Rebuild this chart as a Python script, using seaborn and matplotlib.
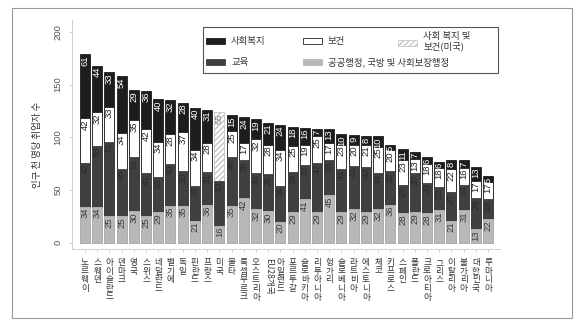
import numpy as np
import pandas as pd
import matplotlib
matplotlib.use("Agg")
import matplotlib.pyplot as plt
from matplotlib.patches import Rectangle
import seaborn as sns

# Employment per 1,000 inhabitants by sector
countries = ["노르웨이", "스웨덴", "아이슬란드", "덴마크", "영국", "스위스", "네덜란드", "벨기에",
             "독일", "핀란드", "프랑스", "미국", "몰타", "룩셈부르크", "오스트리아", "EU28개국",
             "아일랜드", "포르투갈", "슬로바키아", "리투아니아", "헝가리", "슬로베니아", "라트비아",
             "에스토니아", "체코", "키프로스", "스페인", "폴란드", "크로아티아", "그리스", "이탈리아",
             "불가리아", "대한민국", "루마니아"]
public_admin = [34, 34, 25, 25, 30, 25, 29, 35, 35, 21, 36, 16, 35, 42, 32, 30, 20, 29, 41, 29,
                45, 29, 32, 29, 32, 36, 28, 29, 28, 31, 21, 31, 13, 22]
education = [42, 58, 71, 45, 51, 41, 33, 40, 33, 33, 31, 43, 46, 36, 34, 35, 34, 38, 33, 47,
             33, 41, 41, 43, 34, 32, 27, 37, 29, 22, 27, 24, 29, 19]
health = [42, 32, 33, 34, 35, 42, 34, 28, 37, 34, 28, np.nan, 25, 17, 32, 28, 34, 25, 19, 25,
          17, 23, 20, 21, 25, 20, 23, 13, 18, 18, 22, 16, 17, 17]
welfare = [61, 44, 33, 54, 29, 36, 40, 32, 28, 40, 31, np.nan, 15, 24, 19, 21, 24, 18, 16, 7,
           13, 10, 9, 8, 10, 5, 11, 7, 6, 6, 8, 7, 13, 5]
# United States: social welfare and health reported together
welfare_health_us = [np.nan] * 11 + [65] + [np.nan] * 22

df = pd.DataFrame({"country": countries, "admin": public_admin, "edu": education,
                   "health": health, "welfare": welfare, "combined": welfare_health_us})
df["top_admin"] = df["admin"]
df["top_edu"] = df["admin"] + df["edu"]
df["top_health"] = df["top_edu"] + df["health"]
df["top_welfare"] = df["top_health"] + df["welfare"]
df["top_combined"] = df["top_edu"] + df["combined"]

C_WELFARE = "#1d1d1d"
C_EDU = "#404040"
C_ADMIN = "#b8b8b8"
KR = ["Noto Sans CJK KR", "DejaVu Sans"]
NUM = ["Liberation Sans Narrow", "Liberation Sans", "DejaVu Sans"]

sns.set_style("white")
W, H = 582, 326
fig = plt.figure(figsize=(W / 100, H / 100), dpi=100)
ax = fig.add_axes([72 / W, 1 - 249 / H, (500 - 72) / W, (249 - 20) / H])

bw = 0.82
common = dict(x="country", order=countries, width=bw, saturation=1, ax=ax, linewidth=0.6)
sns.barplot(data=df, y="top_welfare", color=C_WELFARE, edgecolor=C_WELFARE, **common)
sns.barplot(data=df, y="top_combined", color="white", edgecolor="#c4c4c4", hatch="//////", **common)
sns.barplot(data=df, y="top_health", color="white", edgecolor="#222222", **common)
sns.barplot(data=df, y="top_edu", color=C_EDU, edgecolor=C_EDU, **common)
sns.barplot(data=df, y="top_admin", color=C_ADMIN, edgecolor=C_ADMIN, **common)

# value labels, written upward at the top end of each segment
def seg_labels(values, tops, color):
    for i, (v, t) in enumerate(zip(values, tops)):
        if np.isnan(v):
            continue
        ax.text(i, t - 1.0, f"{int(v)}", rotation=90, ha="center", va="top",
                fontsize=6.8, color=color, family=NUM)

seg_labels(df["admin"], df["top_admin"], "#3a3a3a")
seg_labels(df["edu"], df["top_edu"], "#2a2a2a")
seg_labels(df["health"], df["top_health"], "#222222")
seg_labels(df["welfare"], df["top_welfare"], "white")
seg_labels(df["combined"], df["top_combined"], "#8a8a8a")

ax.set_xlim(-1.06, 33.98)
ax.set_ylim(-6.0, 211.3)
ax.set_yticks([0, 50, 100, 150, 200])
ax.set_xlabel("")
ax.set_ylabel("")
for s in ["top", "right"]:
    ax.spines[s].set_visible(False)
for s in ["left", "bottom"]:
    ax.spines[s].set_color("#cfcfcf")
    ax.spines[s].set_linewidth(0.7)

ax.tick_params(axis="y", left=True, length=2.5, width=0.6, color="#c8c8c8", pad=4.5,
               labelsize=6.8, labelcolor="#555555", labelrotation=90)
for lab in ax.get_yticklabels():
    lab.set_va("center")
    lab.set_family(NUM[1:])

ax.set_xticks(range(len(countries)))
stacked = [c if c.startswith("EU") else "\n".join(c) for c in countries]
ax.set_xticklabels(stacked, fontsize=6.2, family=KR, color="#333333", linespacing=0.95)
ax.tick_params(axis="x", bottom=True, length=2.5, width=0.6, color="#c8c8c8", pad=4, rotation=0)
for lab in ax.get_xticklabels():
    lab.set_va("top")
    lab.set_ha("center")
    if lab.get_text().startswith("EU"):
        lab.set_rotation(270)

# overlay in pixel coordinates for frame, legend and axis title
lay = fig.add_axes([0, 0, 1, 1], zorder=5)
lay.set_xlim(0, W)
lay.set_ylim(H, 0)
lay.axis("off")
lay.patch.set_alpha(0)

lay.add_patch(Rectangle((12, 8), 560, 310, fill=False, ec="#9a9a9a", lw=0.8))
lay.text(37.5, 145, "인구 천 명당 취업자 수", rotation=90, ha="center", va="center",
         fontsize=6.8, family=KR, color="#333333")

lay.add_patch(Rectangle((203, 27), 295, 46, fc="white", ec="#555555", lw=0.8))
sw_w, sw_h = 19, 6
entries = [
    (206, 41.2, dict(fc=C_WELFARE, ec=C_WELFARE), "사회복지"),
    (206, 62.0, dict(fc=C_EDU, ec=C_EDU), "교육"),
    (303, 41.2, dict(fc="white", ec="#222222"), "보건"),
    (303, 62.0, dict(fc=C_ADMIN, ec=C_ADMIN), "공공행정, 국방 및 사회보장행정"),
    (398, 42.5, dict(fc="white", ec="#c8c8c8", hatch="//////"), "사회 복지 및\n보건(미국)"),
]
for x0, yc, style, text in entries:
    lay.add_patch(Rectangle((x0, yc - sw_h / 2), sw_w, sw_h, lw=0.6, **style))
    lay.text(x0 + sw_w + 6, yc - (1 if "\n" in text else 0), text, ha="left", va="center",
             fontsize=6.8, family=KR, color="#333333", linespacing=1.15)

fig.savefig("out.png", dpi=100, facecolor="white")
